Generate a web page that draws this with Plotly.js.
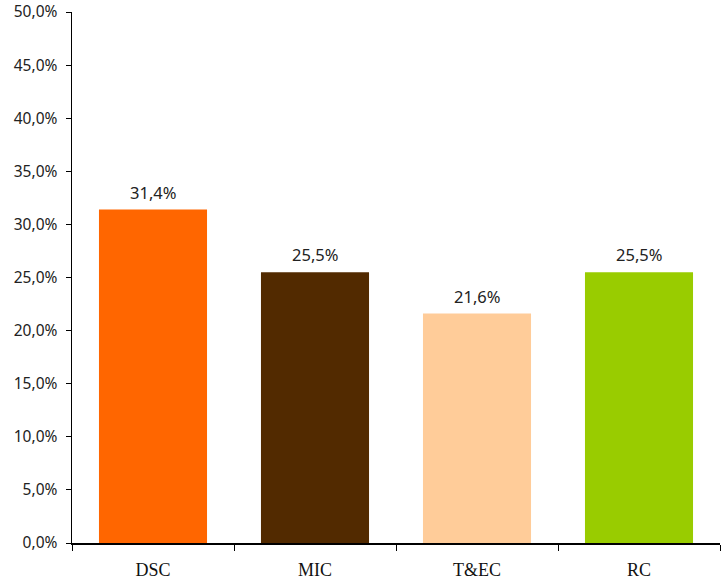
<!DOCTYPE html>
<html>
<head>
<meta charset="utf-8">
<script src="https://cdn.plot.ly/plotly-3.0.1.min.js"></script>
<style>html,body{margin:0;padding:0;background:#fff}#chart{width:723px;height:584px}</style>
</head>
<body>
<div id="chart"></div>
<script>
const categories = ["DSC", "MIC", "T&EC", "RC"];
const values = [0.314, 0.255, 0.216, 0.255];
const labels = ["31,4%", "25,5%", "21,6%", "25,5%"];
const colors = ["#FF6600", "#522A00", "#FFCC99", "#99CC00"];

const trace = {
  type: "bar",
  x: categories,
  y: values,
  marker: {color: colors, line: {width: 0}},
  hoverinfo: "none"
};

const annotations = categories.map((c, i) => ({
  x: c, y: values[i], xref: "x", yref: "y",
  text: labels[i], showarrow: false,
  yanchor: "bottom", yshift: 4,
  font: {family: "Noto Sans, sans-serif", size: 16.5, color: "#222"}
}));

const layout = {
  width: 723, height: 584,
  margin: {l: 72, r: 3, t: 12, b: 41},
  separators: ",.",
  paper_bgcolor: "#fff",
  plot_bgcolor: "#fff",
  showlegend: false,
  bargap: 0.333,
  annotations: annotations,
  xaxis: {
    type: "category",
    showline: true, linecolor: "#000", linewidth: 1.5,
    ticks: "outside", ticklen: 6, tickcolor: "#000",
    tickson: "boundaries",
    showgrid: false, zeroline: false,
    ticklabelstandoff: 10,
    tickfont: {family: "Liberation Serif, serif", size: 18, color: "#111"}
  },
  yaxis: {
    range: [0, 0.5],
    dtick: 0.05,
    tickformat: ".1%",
    showline: true, linecolor: "#000", linewidth: 1.5,
    ticks: "outside", ticklen: 5, tickcolor: "#000",
    showgrid: false, zeroline: false,
    ticklabeloverflow: "allow",
    ticklabelstandoff: 5,
    tickfont: {family: "Noto Sans, sans-serif", size: 15.5, color: "#222"}
  }
};

Plotly.newPlot("chart", [trace], layout, {displayModeBar: false, staticPlot: true});
</script>
</body>
</html>
